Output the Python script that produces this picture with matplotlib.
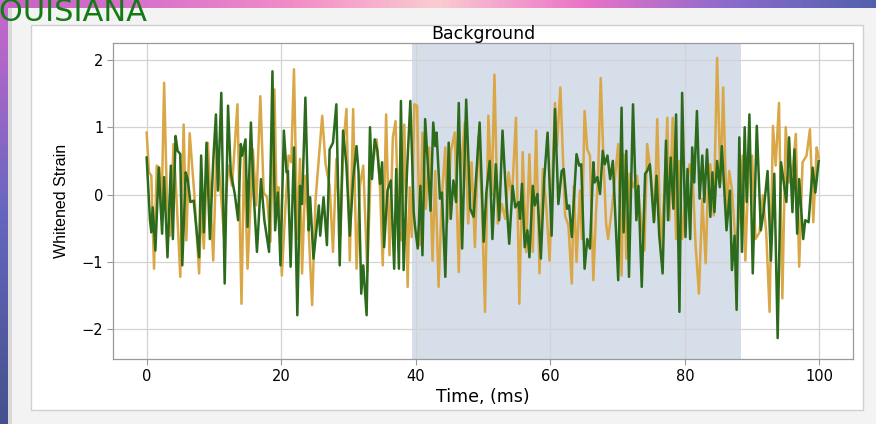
import numpy as np
from matplotlib import pyplot as plt
from matplotlib.patches import Rectangle

# valeurs (sommets des courbes)
t_orange = [0, 0.35, 0.7, 1.1, 1.5, 1.9, 2.2, 2.6, 3.0, 3.5, 4.0, 4.5, 5.0, 5.5, 5.9, 6.4, 7.1, 7.8, 8.1, 8.5,
            9.1, 9.9, 10.4, 10.7, 11.5, 12.1, 12.7, 13.5, 14.1, 14.5, 15.0, 15.8, 16.3, 16.9, 17.4, 17.9, 18.4, 19.0,
            19.3, 19.6, 20.1, 20.6, 21.1, 21.5, 21.9, 22.4, 22.8, 23.1, 23.6, 24.1, 24.6, 25.1, 25.6, 26.1, 26.6,
            27.2, 27.7, 28.2, 28.8, 29.2, 29.7, 30.2, 30.7, 31.2, 31.7, 32.2, 32.8, 33.3, 33.8, 34.2, 34.7, 35.1,
            35.6, 36.1, 36.6, 37.0, 37.5, 37.9, 38.3, 38.8, 39.1,
            39.4, 39.8, 40.2, 40.6, 41.0, 41.5, 42.0, 42.5, 42.9, 43.4, 43.9, 44.4, 44.7, 45.2, 45.8, 46.4, 46.8,
            47.3, 47.8, 48.3, 48.8, 49.3, 49.8, 50.3, 50.8, 51.3, 51.7, 52.2, 52.8, 53.3, 53.8, 54.3, 54.9, 55.4,
            55.9, 56.4, 56.9, 57.4, 57.9, 58.4, 58.9, 59.4, 59.9,
            60.7, 61.0, 61.5, 62.2, 62.7, 63.2, 63.5, 63.9, 64.4, 64.7, 65.1, 65.5, 65.9, 66.4, 66.8, 67.1, 67.5,
            67.9, 68.3, 68.6, 69.1, 69.6, 70.1, 70.6, 70.9, 71.3, 71.8, 72.3, 72.9, 73.3, 74.0, 74.4, 75.0, 75.5,
            75.9, 76.4, 76.9, 77.4, 77.7, 78.2, 78.7, 79.2, 79.6, 80.2, 80.7,
            81.2, 81.6, 82.1, 82.6, 83.1, 83.4, 83.8, 84.3, 84.8, 85.3, 85.7, 86.2, 86.6, 87.0, 87.6, 88.1, 88.6,
            89.0, 89.5, 90.0, 90.5, 91.1, 91.6, 92.1, 92.6, 93.1, 93.5, 94.0, 94.5, 95.0, 95.5, 96.1, 96.5, 97.0,
            97.5, 98.1, 98.6, 99.1, 99.6, 99.9]
y_orange = [0.92, 0.33, 0.28, -1.10, 0.43, 0.40, -0.36, 1.66, -0.01, -0.61, 0.75, -0.16, -1.22, 1.04, -0.68, 0.91,
            -0.01, -1.17, -0.14, -0.80, 0.77, -0.98, 0.72, 0.48, -0.61, 0.43, 0.13, 1.34, -1.62, 0.67, -1.10, 0.67,
            -0.16, 1.46, 0.03, -0.04, -0.70, 1.56,
            -0.06, 0.11, -1.20, -0.24, 0.58, 0.48, 1.86, -0.66, 0.53, -1.17, 0.28, -0.56, -1.64, -0.09, 0.53, 1.17,
            0.45, 0.13, -0.85, 0.53, -0.61, 0.67, 1.27, -0.98, 1.27, -1.10, 0.13, 0.43, -1.15, 0.35, 0.58, 0.82,
            0.08, -1.05, 1.19, -0.90, 0.85, 1.09, -0.56, -0.68, 1.04, -1.37, 0.11,
            -0.63, 1.34, 1.32, -0.75, 0.92, -0.21, 0.70, -0.98, 0.35, -1.37, -0.01, 0.70, -0.41, 0.63, 0.92, -1.15,
            0.48, 1.07, -0.43, 0.48, -0.78, 0.87, -0.04, -1.74, 1.17, -0.01, 1.78, -0.43, -0.14, -0.36, 0.33, -0.06,
            1.14, -1.62, 0.63, -0.85, 0.60, -0.85, 0.95, -1.17, 0.38, -0.16, -0.98,
            1.36, 0.72, 1.59, -0.31, -0.46, -1.32, 0.13, -1.00, 0.06, -0.66, 1.24, 0.67, 0.58, -1.27, -0.26, 0.26,
            1.73, 0.53, -0.43, -0.66, -0.26, 0.23, 0.75, -1.20, 0.60, -0.95, 0.31, 0.11, 0.28, -0.19, -0.83, 0.75,
            0.28, -0.38, 1.12, -0.75, -0.06, 1.14, -0.38, 1.14, -0.66, 0.50, -0.66, 0.03, 0.45,
            0.18, -0.75, -1.47, -0.06, -1.02, -0.01, 0.45, -0.31, 2.03, 0.18, 1.59, -0.26, 0.35, 0.08, -0.83, -0.24,
            0.58, -0.98, 0.48, 0.58, -0.66, -0.56, -0.01, -0.56, -1.74, 1.02, 0.43, 1.36, -1.54, 1.00, 0.18, 0.45,
            0.90, -1.07, 0.48, 0.58, 0.97, -0.41, 0.70, 0.55]

t_vert = [0, 0.5, 0.7, 0.9, 1.3, 1.8, 2.3, 2.6, 3.1, 3.6, 3.9, 4.3, 4.6, 5.0, 5.3, 5.8, 6.1, 6.5, 7.0, 7.8, 8.1,
          8.5, 8.9, 9.4, 9.9, 10.3, 10.6, 11.1, 11.6, 12.1, 12.5, 13.1, 13.6, 14.0, 14.2, 14.7, 15.0, 15.5, 15.9,
          16.4, 17.0, 17.5, 18.2, 18.7,
          19.1, 19.5, 19.9, 20.4, 20.8, 21.0, 21.4, 21.9, 22.4, 22.8, 23.1, 23.6, 24.1, 24.3, 24.8, 25.6, 25.8,
          26.3, 26.8, 27.2, 27.7, 28.2, 28.7, 29.2, 29.7, 30.2, 30.7, 31.2, 31.5, 31.9, 32.2, 32.7, 33.2, 33.5,
          33.9, 34.3, 34.7, 35.0, 35.3, 35.8, 36.3, 36.8, 37.1, 37.5, 37.8, 38.2, 38.7, 39.2,
          39.7, 39.9, 40.3, 40.7, 41.0, 41.4, 41.9, 42.2, 42.6, 42.9, 43.1, 43.6, 43.9, 44.4, 44.9, 45.2, 45.6,
          46.0, 46.4, 46.9, 47.5, 48.1, 48.6, 49.5, 50.1, 50.5, 51.0, 51.4, 51.9, 52.4, 52.9, 53.4, 53.9, 54.4,
          54.8, 55.3, 55.5, 55.8, 56.2, 56.6, 56.9, 57.4, 57.7, 58.1, 58.6, 59.1, 59.6, 60.2,
          60.7, 61.2, 61.7, 62.0, 62.5, 62.8, 63.2, 63.9, 64.3, 64.6, 65.1, 65.5, 65.9, 66.4, 66.6, 67.0, 67.4,
          67.8, 68.1, 68.5, 68.9, 69.3, 70.1, 70.6, 70.9, 71.3, 71.7, 72.3, 72.8, 73.1, 73.6, 74.1, 74.4, 74.8,
          75.4, 75.8, 76.2, 76.7, 77.2, 77.5, 77.9, 78.3, 78.7, 79.2, 79.6, 80.1, 80.4, 80.8,
          81.1, 81.4, 81.8, 82.2, 82.6, 82.9, 83.3, 83.8, 84.1, 84.4, 84.8, 85.2, 85.5, 86.2, 86.7, 87.0, 87.4,
          87.7, 88.1, 88.5, 88.9, 89.2, 89.6, 90.1, 90.7, 91.3, 91.7, 92.3, 92.8, 93.3, 93.8, 94.3, 95.1, 95.5,
          96.0, 96.3, 96.7, 97.0, 97.6, 97.9, 98.4, 99.0, 99.4, 99.9]
y_vert = [0.55, -0.38, -0.56, -0.19, -0.83, 0.40, -0.58, 0.26, -0.93, 0.43, -0.66, 0.87, 0.65, 0.60, -1.05, 0.33,
          0.23, -0.11, -0.09, -0.93, 0.58, -0.56, 0.77, -0.66, 0.50, 1.19, 0.06, 1.51, -1.32, 1.32, 0.33, 0.01,
          -0.38, 0.75, 0.58, 0.82, -0.48, 1.07, 0.03, -0.85, 0.23, -0.38, -0.85, 1.83,
          -0.53, 0.03, -1.05, 0.95, 0.33, 0.35, -1.07, 0.70, -1.79, 0.13, -0.14, 1.44, -0.53, -0.04, -0.95, -0.16,
          -0.61, -0.04, -0.75, 0.67, 0.77, 1.34, -1.05, 0.95, 0.43, -0.61, 0.23, 0.72, 0.33, -1.47, -1.05, -1.79,
          1.00, 0.23, 0.82, 0.65, 0.16, 0.48, -0.78, 0.06, 0.21, -1.10, 0.38, -1.10, 1.39, -1.12, 0.33, 1.39,
          -0.26, -0.48, -0.80, 0.13, -0.90, 1.12, 0.26, -0.24, 1.07, 0.72, 0.92, -0.06, 0.03, -1.22, 0.77, -0.36,
          0.21, -0.11, 1.36, -0.80, 1.41, -0.21, -0.33, 1.07, -0.70, 0.03, 0.50, -0.66, 0.45, -0.38, 0.95, 0.03,
          -0.73, 0.13, -0.19, -0.11, -0.36, 0.16, -0.78, -0.53, -0.93, 0.13, -0.16, 0.01, -0.95, 0.23, 0.92, -0.61,
          1.27, -0.14, 0.35, 0.38, -0.21, -0.16, -0.63, 0.60, 0.43, 0.45, -1.10, -0.66, -0.80, 0.48, 0.18, 0.26,
          0.01, 0.65, 0.45, 0.58, 0.23, 0.50, -1.27, 1.29, -0.56, 0.65, -1.22, 1.34, -0.38, 0.13, -1.37, 0.31,
          0.35, 0.45, -0.41, 0.28, -0.61, -1.17, 0.80, -0.38, 0.55, -0.21, 1.19, -1.74, 1.51, -0.63, 0.38, -0.66,
          0.70, 0.18, 1.24, -0.06, 0.58, -0.11, 0.67, -0.33, 0.33, -0.26, 0.50, 0.11, 0.72, -0.53, 0.06, -1.12,
          -0.61, -1.71, 0.85, -0.85, 1.00, -0.11, 1.19, -1.17, 1.02, -0.53, -0.26, 0.35, -0.98, 0.31, -2.13, 0.48,
          -0.11, 0.85, -0.26, 0.67, -0.58, 0.23, -0.66, -0.38, -0.41, 0.40, 0.03, 0.50]

fond = (39.4, 88.3)
titre = "Background"

plt.rcParams['font.family'] = ['DejaVu Sans']

fig = plt.figure(figsize=(8.76, 4.24), dpi=100)
fig.patch.set_facecolor('#f3f3f3')

# décor de la diapo : bandeau violet en haut, bande bleue à gauche
deco = fig.add_axes([0, 0, 1, 1], zorder=-5)
deco.set_xlim(0, 876)
deco.set_ylim(424, 0)
deco.axis('off')
bandeau = np.zeros((1, 200, 3))
cols = np.array([[0.78, 0.38, 0.78], [0.85, 0.45, 0.80], [0.95, 0.55, 0.78], [0.98, 0.80, 0.82],
                 [0.92, 0.45, 0.78], [0.55, 0.42, 0.80], [0.32, 0.38, 0.68]])
pos = np.linspace(0, 1, len(cols))
xs = np.linspace(0, 1, 200)
for k in range(3):
    bandeau[0, :, k] = np.interp(xs, pos, cols[:, k])
deco.imshow(bandeau, extent=(0, 876, 8, 0), aspect='auto')
gauche = np.zeros((100, 1, 3))
cg = np.array([[0.80, 0.40, 0.80], [0.40, 0.40, 0.75], [0.27, 0.32, 0.55]])
ys = np.linspace(0, 1, 100)
for k in range(3):
    gauche[:, 0, k] = np.interp(ys, np.linspace(0, 1, 3), cg[:, k])
deco.imshow(gauche, extent=(0, 8, 424, 0), aspect='auto')
deco.add_patch(Rectangle((8, 8), 4, 416, color='#d8d8d8', lw=0))
deco.add_patch(Rectangle((31, 25), 832, 385, facecolor='white', edgecolor='#d0d0d0', lw=1))
deco.text(-17, 21, "LOUISIANA", color='#157a15', fontsize=22, va='baseline', ha='left')

ax = fig.add_axes([113/876, 1 - 359/424, 740/876, 316/424])
ax.axvspan(fond[0], fond[1], color='#d6deea', lw=0, zorder=1)
ax.plot(t_orange, y_orange, color='#d9a745', lw=1.8, zorder=2)
ax.plot(t_vert, y_vert, color='#2c6a1c', lw=1.8, zorder=3)

ax.set_xlim(-5, 105)
ax.set_ylim(-2.44, 2.25)
ax.set_xticks([0, 20, 40, 60, 80, 100])
ax.set_yticks([-2, -1, 0, 1, 2])
ax.grid(True, color='#d3d3d3', lw=0.9)
ax.set_axisbelow('line')
for s in ax.spines.values():
    s.set_color('#9a9a9a')
    s.set_linewidth(0.9)
ax.tick_params(direction='out', length=4, width=0.8, color='#9a9a9a', labelsize=10.5, pad=3)
ax.set_title(titre, fontsize=12.5, pad=2)
ax.set_xlabel("Time, (ms)", fontsize=12.5, labelpad=3)
ax.set_ylabel("Whitened Strain", fontsize=11.5, labelpad=9, family='Liberation Sans')

fig.savefig("out.png", dpi=100, facecolor=fig.get_facecolor())
